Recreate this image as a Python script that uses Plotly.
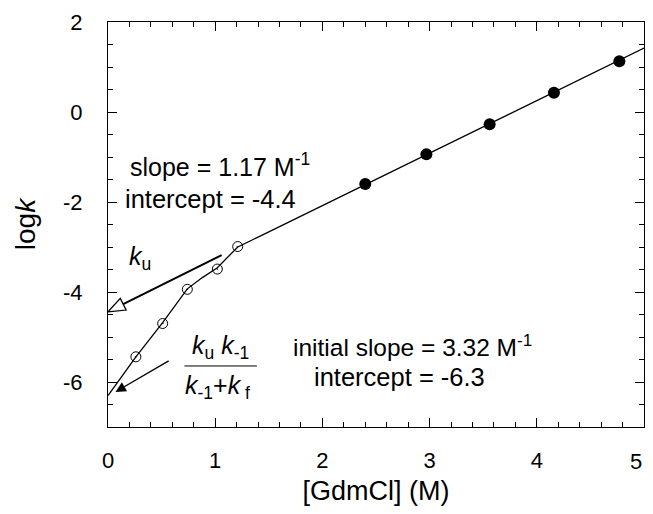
import plotly.graph_objects as go

# ---- data ----
filled_x = [2.40, 2.97, 3.56, 4.16, 4.77]
filled_y = [-1.60, -0.94, -0.27, 0.43, 1.13]

open_x = [0.26, 0.51, 0.74, 1.02, 1.21]
open_y = [-5.44, -4.70, -3.94, -3.49, -2.99]

fit_x = [0.00, 0.26, 0.51, 0.74, 0.88, 1.02, 1.21, 1.40, 5.00]
fit_y = [-6.30, -5.44, -4.68, -3.93, -3.68, -3.46, -3.00, -2.78, 1.42]

x_tickvals = [0, 1, 2, 3, 4, 5]
x_ticktext = ["0", "1", "2", "3", "4", "5"]
y_tickvals = [-6, -4, -2, 0, 2]
y_ticktext = ["-6", "-4", "-2", "0", "2"]

X_RANGE = [0, 5]
Y_RANGE = [-7, 2]

# page has an 8px body margin and the visible width ends near 645 px
W, H = 645, 498
ML, MR, MT, MB = 100, 9, 14, 79
FONT = "Liberation Sans, Arial, Helvetica, sans-serif"

plot_w = W - ML - MR
plot_h = H - MT - MB
sx = plot_w / (X_RANGE[1] - X_RANGE[0])   # px per x unit
sy = plot_h / (Y_RANGE[1] - Y_RANGE[0])   # px per y unit

fig = go.Figure()

fig.add_trace(go.Scatter(x=fit_x, y=fit_y, mode="lines",
                         line=dict(color="black", width=1.3),
                         hoverinfo="skip", showlegend=False))
fig.add_trace(go.Scatter(x=open_x, y=open_y, mode="markers",
                         marker=dict(symbol="circle-open-dot", size=10,
                                     color="black", line=dict(width=1)),
                         showlegend=False))
fig.add_trace(go.Scatter(x=filled_x, y=filled_y, mode="markers",
                         marker=dict(symbol="circle", size=12, color="black"),
                         showlegend=False))

# ---- k_u arrow with hollow head ----
tail = (1.06, -3.18)
tip = (0.0, -4.44)
dxp = (tip[0] - tail[0]) * sx
dyp = -(tip[1] - tail[1]) * sy
ln = (dxp ** 2 + dyp ** 2) ** 0.5
ux, uy = dxp / ln, dyp / ln
L, Wd = 17, 6.5
bx, by = -ux * L, -uy * L          # base center relative to tip (px)
nx, ny = -uy, ux
v1 = (tip[0] + (bx + nx * Wd) / sx, tip[1] - (by + ny * Wd) / sy)
v2 = (tip[0] + (bx - nx * Wd) / sx, tip[1] - (by - ny * Wd) / sy)
base = (tip[0] + bx / sx, tip[1] - by / sy)
fig.add_shape(type="line", x0=tail[0], y0=tail[1], x1=base[0], y1=base[1],
              xref="x", yref="y", line=dict(color="black", width=2))
fig.add_shape(type="path",
              path=f"M {tip[0]},{tip[1]} L {v1[0]},{v1[1]} L {v2[0]},{v2[1]} Z",
              xref="x", yref="y", fillcolor="white",
              line=dict(color="black", width=1.3))

# ---- second arrow (filled head) ----
fig.add_annotation(x=0.07, y=-6.22, ax=0.58, ay=-5.51, xref="x", yref="y",
                   axref="x", ayref="y", text="", showarrow=True,
                   arrowhead=2, arrowsize=1.6, arrowwidth=1.3, arrowcolor="black",
                   standoff=0)

# ---- texts ----
def txt(x, y, s, size=24, xanchor="left"):
    fig.add_annotation(x=x, y=y, xref="x", yref="y", text=s, showarrow=False,
                       xanchor=xanchor, yanchor="middle",
                       font=dict(family=FONT, size=size, color="black"))

txt(0.19, -1.18, "slope = 1.17 M<sup>-1</sup>", size=25)
txt(0.14, -1.93, "intercept = -4.4", size=25.5)
txt(1.71, -5.18, "initial slope = 3.32 M<sup>-1</sup>", size=24.5)
txt(1.90, -5.89, "intercept = -6.3", size=25.5)
txt(0.18, -3.24, "<i>k</i><sub>u</sub>", size=25)
txt(1.05, -5.22, "<i>k</i><sub>u</sub> <i>k</i><sub>-1</sub>", size=25, xanchor="center")
txt(1.02, -6.10, "<i>k</i><sub>-1</sub>+<i>k</i><sub> f</sub>", size=25, xanchor="center")
fig.add_shape(type="line", x0=0.713, x1=1.389, y0=-5.644, y1=-5.644,
              xref="x", yref="y", line=dict(color="black", width=1))

# last x tick label drawn right-aligned so it stays inside the visible page
axis_ticktext = x_ticktext[:-1] + [""]
fig.add_annotation(x=x_tickvals[-1], y=0, xref="x", yref="paper",
                   text=x_ticktext[-1], showarrow=False, xanchor="right",
                   yanchor="middle", yshift=-34,
                   font=dict(family=FONT, size=22, color="black"))

axis_common = dict(showline=True, linecolor="black", linewidth=1.3, mirror="allticks",
                   ticks="inside", tickcolor="black", tickwidth=1.2, ticklen=9,
                   showgrid=False, zeroline=False, automargin=False,
                   ticklabeloverflow="allow",
                   tickfont=dict(family=FONT, size=22, color="black"))

fig.update_xaxes(range=X_RANGE, tickvals=x_tickvals, ticktext=axis_ticktext,
                 minor=dict(ticks="inside", dtick=0.2, tick0=0, ticklen=5,
                            tickcolor="black", tickwidth=1, showgrid=False),
                 ticklabelstandoff=13,
                 title=dict(text="[GdmCl] (M)", standoff=12,
                            font=dict(family=FONT, size=27, color="black")),
                 **axis_common)
fig.update_yaxes(range=Y_RANGE, tickvals=y_tickvals, ticktext=y_ticktext,
                 minor=dict(ticks="inside", dtick=0.5, tick0=0, ticklen=5,
                            tickcolor="black", tickwidth=1, showgrid=False),
                 ticklabelstandoff=20,
                 title=dict(text="log<i>k</i>", standoff=19,
                            font=dict(family=FONT, size=28, color="black")),
                 **axis_common)

fig.update_layout(width=W, height=H, margin=dict(l=ML, r=MR, t=MT, b=MB),
                  plot_bgcolor="white", paper_bgcolor="white",
                  font=dict(family=FONT, color="black"))

fig.write_html("out.html")
